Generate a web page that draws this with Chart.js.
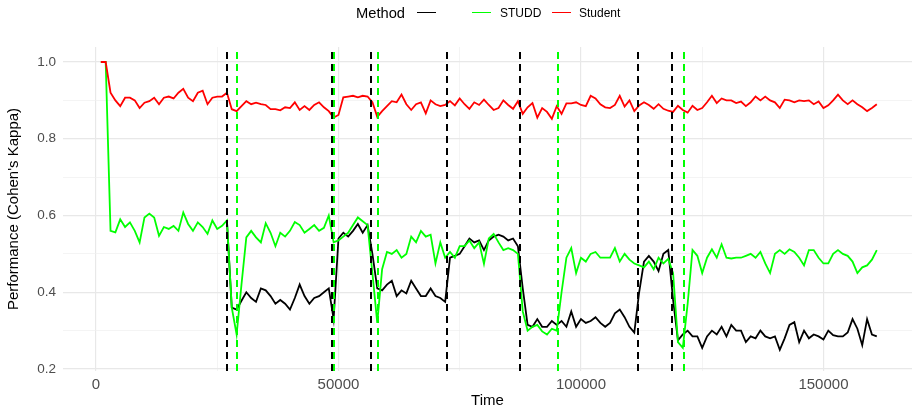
<!DOCTYPE html>
<html>
<head>
<meta charset="utf-8">
<script src="https://cdn.jsdelivr.net/npm/chart.js@4.4.0/dist/chart.umd.min.js"></script>
<style>
  html, body { margin: 0; padding: 0; background: #fff; }
  #wrap { position: relative; width: 917px; height: 410px; font-family: "Liberation Sans", Arial, sans-serif; }
  #wrap canvas { position: absolute; left: 0; top: 0; }
  .lg { position: absolute; color: #000; white-space: nowrap; line-height: 1; }
  .key { position: absolute; width: 19px; height: 0; border-top: 1.3px solid; }
</style>
</head>
<body>
<div id="wrap">
  <canvas id="chart" width="917" height="410"></canvas>
  <!-- legende en haut, comme ggplot -->
  <span class="lg" style="left:356px; top:6px; font-size:14.7px;">Method</span>
  <span class="key" style="left:417px; top:12px; border-color:#000000;"></span>
  <span class="key" style="left:472px; top:12px; border-color:#00ff00;"></span>
  <span class="lg" style="left:500px; top:7px; font-size:12px;">STUDD</span>
  <span class="key" style="left:552px; top:12px; border-color:#ff0000;"></span>
  <span class="lg" style="left:579px; top:7px; font-size:12px;">Student</span>
</div>
<script>
// temps (en milliers d'exemples)
const timeK = [
  1,2,3,4,5,6,7,8,9,10,11,12,13,14,15,16,17,18,19,20,
  21,22,23,24,25,26,27,28,29,30,31,32,33,34,35,36,37,38,39,40,
  41,42,43,44,45,46,47,48,49,50,51,52,53,54,55,56,57,58,59,60,
  61,62,63,64,65,66,67,68,69,70,71,72,73,74,75,76,77,78,79,80,
  81,82,83,84,85,86,87,88,89,90,91,92,93,94,95,96,97,98,99,100,
  101,102,103,104,105,106,107,108,109,110,111,112,113,114,115,116,117,118,119,120,
  121,122,123,124,125,126,127,128,129,130,131,132,133,134,135,136,137,138,139,140,
  141,142,143,144,145,146,147,148,149,150,151,152,153,154,155,156,157,158,159,160,
  161
];

// Student (rouge)
const student = [
  1.0,1.0,0.92,0.90,0.885,0.907,0.907,0.90,0.88,0.894,0.898,0.907,0.89,0.907,0.91,0.905,0.92,0.93,0.907,0.898,
  0.92,0.925,0.89,0.907,0.91,0.91,0.92,0.877,0.872,0.885,0.898,0.89,0.894,0.89,0.888,0.877,0.877,0.874,0.882,0.88,
  0.895,0.875,0.885,0.875,0.888,0.895,0.882,0.872,0.855,0.862,0.908,0.91,0.912,0.908,0.912,0.91,0.895,0.857,0.872,0.885,
  0.898,0.895,0.915,0.89,0.875,0.89,0.895,0.866,0.9,0.89,0.885,0.888,0.898,0.887,0.905,0.89,0.878,0.895,0.888,0.902,
  0.888,0.875,0.88,0.9,0.888,0.878,0.898,0.865,0.882,0.893,0.855,0.88,0.87,0.852,0.885,0.865,0.892,0.892,0.895,0.888,
  0.885,0.912,0.905,0.89,0.882,0.88,0.888,0.912,0.884,0.9,0.872,0.887,0.895,0.888,0.878,0.89,0.878,0.873,0.87,0.886,
  0.875,0.868,0.886,0.875,0.88,0.895,0.912,0.893,0.905,0.9,0.9,0.893,0.897,0.885,0.895,0.91,0.9,0.91,0.9,0.895,
  0.88,0.902,0.9,0.895,0.9,0.898,0.9,0.89,0.897,0.88,0.887,0.9,0.915,0.9,0.89,0.9,0.89,0.882,0.872,0.88,
  0.89
];

// STUDD (vert)
const studd = [
  1.0,1.0,0.56,0.556,0.59,0.57,0.582,0.56,0.53,0.595,0.605,0.595,0.547,0.57,0.565,0.573,0.56,0.608,0.578,0.56,
  0.582,0.57,0.552,0.587,0.565,0.573,0.587,0.36,0.29,0.42,0.543,0.56,0.543,0.53,0.58,0.555,0.52,0.555,0.545,0.56,
  0.583,0.575,0.555,0.565,0.575,0.56,0.568,0.6,0.53,0.535,0.545,0.555,0.575,0.595,0.585,0.575,0.45,0.32,0.46,0.505,
  0.5,0.51,0.49,0.5,0.545,0.53,0.56,0.545,0.55,0.475,0.53,0.49,0.505,0.49,0.52,0.52,0.535,0.515,0.53,0.474,
  0.54,0.552,0.53,0.51,0.515,0.51,0.5,0.35,0.3,0.31,0.315,0.298,0.29,0.305,0.3,0.4,0.49,0.515,0.45,0.49,
  0.48,0.5,0.505,0.49,0.49,0.49,0.515,0.48,0.5,0.485,0.475,0.47,0.465,0.48,0.46,0.49,0.475,0.487,0.45,0.27,
  0.255,0.37,0.51,0.495,0.45,0.49,0.512,0.49,0.525,0.49,0.488,0.49,0.49,0.495,0.5,0.49,0.505,0.475,0.45,0.5,
  0.51,0.5,0.512,0.505,0.49,0.47,0.51,0.51,0.49,0.475,0.475,0.5,0.51,0.5,0.495,0.48,0.45,0.465,0.47,0.485,
  0.51
];

// methode sans nom (noir), separee du vert apres la premiere derive
const baseline = [
  null,null,null,null,null,null,null,null,null,null,null,null,null,null,null,null,null,null,null,null,
  null,null,null,null,null,null,0.587,0.36,0.355,0.378,0.40,0.385,0.375,0.41,0.405,0.39,0.37,0.38,0.37,0.355,
  0.385,0.42,0.39,0.37,0.385,0.39,0.4,0.41,0.33,0.54,0.555,0.545,0.56,0.578,0.555,0.575,0.5,0.41,0.405,0.42,
  0.43,0.39,0.405,0.397,0.43,0.41,0.39,0.39,0.41,0.39,0.385,0.375,0.49,0.495,0.5,0.52,0.54,0.53,0.535,0.51,
  0.535,0.545,0.55,0.545,0.535,0.54,0.52,0.41,0.315,0.31,0.33,0.31,0.31,0.325,0.315,0.325,0.31,0.35,0.31,0.33,
  0.32,0.325,0.335,0.32,0.31,0.32,0.345,0.355,0.335,0.31,0.295,0.4,0.48,0.495,0.48,0.455,0.5,0.51,0.38,0.275,
  0.29,0.3,0.285,0.285,0.255,0.285,0.3,0.29,0.31,0.285,0.315,0.3,0.3,0.27,0.285,0.28,0.3,0.285,0.28,0.285,
  0.25,0.28,0.315,0.322,0.27,0.3,0.28,0.29,0.285,0.277,0.3,0.288,0.285,0.285,0.295,0.33,0.305,0.262,0.33,0.29,
  0.285
];

// derives detectees
const driftsBaseline = [27000, 48700, 56700, 72400, 87400, 111800, 118700];
const driftsStudd = [29000, 49100, 58100, 95300, 121200];

const xTicks = [0, 25000, 50000, 75000, 100000, 125000, 150000];
const yTicks = [0.2, 0.3, 0.4, 0.5, 0.6, 0.7, 0.8, 0.9, 1.0];

const toPoints = vals => vals.map((v, i) => ({ x: timeK[i] * 1000, y: v }));

// lignes verticales pointillees pour les derives
const driftLines = {
  id: 'driftLines',
  afterDatasetsDraw(chart) {
    const { ctx, chartArea, scales } = chart;
    const groups = [
      { xs: driftsBaseline, color: '#000000' },
      { xs: driftsStudd, color: '#00ff00' }
    ];
    ctx.save();
    ctx.lineWidth = 2;
    ctx.setLineDash([7, 5]);
    groups.forEach(g => {
      ctx.strokeStyle = g.color;
      g.xs.forEach(d => {
        const px = Math.round(scales.x.getPixelForValue(d));
        ctx.beginPath();
        ctx.moveTo(px, chartArea.bottom);
        ctx.lineTo(px, chartArea.top);
        ctx.stroke();
      });
    });
    ctx.restore();
  }
};

const isMajorX = v => v % 50000 === 0;
const isMajorY = v => Math.round(v * 10) % 2 === 0;

new Chart(document.getElementById('chart'), {
  type: 'line',
  data: {
    datasets: [
      { label: 'Student', data: toPoints(student), borderColor: '#ff0000', order: 0 },
      { label: 'STUDD', data: toPoints(studd), borderColor: '#00ff00', order: 1 },
      { label: '', data: toPoints(baseline), borderColor: '#000000', order: 2 }
    ]
  },
  options: {
    responsive: false,
    animation: false,
    parsing: false,
    layout: { padding: { top: 47, right: 5, left: 0, bottom: 0 } },
    elements: {
      line: { borderWidth: 1.8, tension: 0 },
      point: { radius: 0 }
    },
    plugins: {
      legend: { display: false },
      tooltip: { enabled: false }
    },
    scales: {
      x: {
        type: 'linear',
        min: -6800,
        max: 168260,
        afterFit: s => { s.height = 39; },
        afterBuildTicks: s => { s.ticks = xTicks.map(v => ({ value: v })); },
        border: { display: false },
        grid: {
          drawTicks: false,
          color: ctx => isMajorX(ctx.tick.value) ? '#e8e8e8' : '#efefef',
          lineWidth: ctx => isMajorX(ctx.tick.value) ? 1.2 : 0.7
        },
        ticks: {
          padding: 5,
          color: '#4d4d4d',
          font: { family: 'Liberation Sans', size: 15 },
          maxRotation: 0,
          autoSkip: false,
          callback: v => isMajorX(v) ? String(v) : ''
        },
        title: {
          display: true,
          text: 'Time',
          color: '#000',
          font: { family: 'Liberation Sans', size: 15 },
          padding: { top: 0, bottom: 0 }
        }
      },
      y: {
        min: 0.1948,
        max: 1.0391,
        afterFit: s => { s.width = 63; },
        afterBuildTicks: s => { s.ticks = yTicks.map(v => ({ value: v })); },
        border: { display: false },
        grid: {
          drawTicks: false,
          color: ctx => isMajorY(ctx.tick.value) ? '#e8e8e8' : '#efefef',
          lineWidth: ctx => isMajorY(ctx.tick.value) ? 1.2 : 0.7
        },
        ticks: {
          padding: 7,
          color: '#4d4d4d',
          font: { family: 'Liberation Sans', size: 13.5 },
          autoSkip: false,
          callback: v => isMajorY(v) ? v.toFixed(1) : ''
        },
        title: {
          display: true,
          text: "Performance (Cohen's Kappa)",
          color: '#000',
          font: { family: 'Liberation Sans', size: 15 },
          padding: { top: 5, bottom: 0 }
        }
      }
    }
  },
  plugins: [driftLines]
});
</script>
</body>
</html>
